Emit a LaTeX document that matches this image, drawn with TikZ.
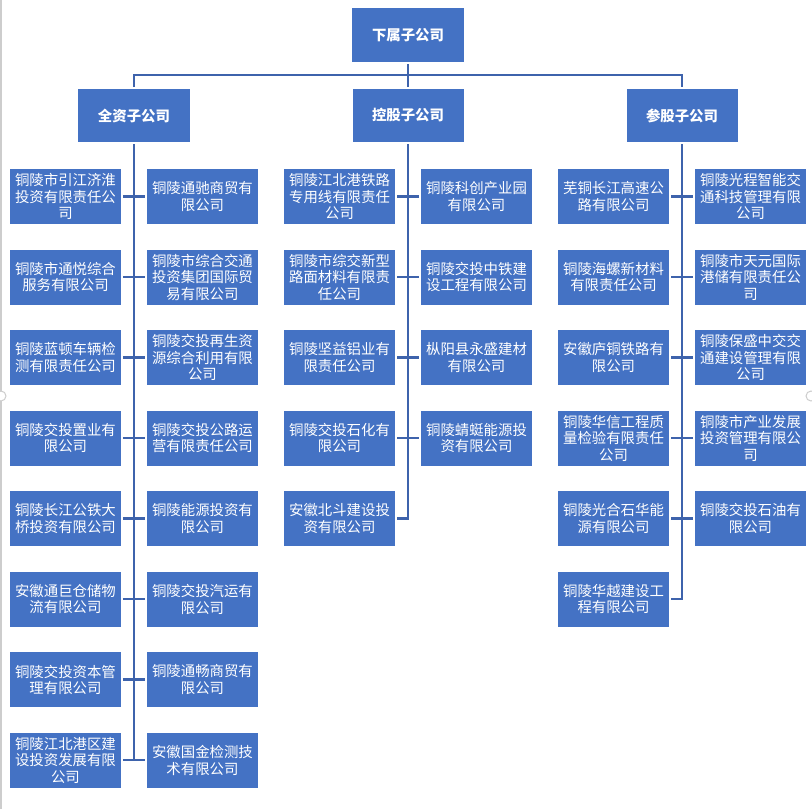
\documentclass[tikz,border=0pt]{standalone}
\usepackage{fontspec}
\setmainfont{Noto Sans CJK SC}
\usepackage{tikz}
\usetikzlibrary{matrix,positioning}
\definecolor{boxblue}{RGB}{68,114,196}
\definecolor{lineblue}{RGB}{62,99,172}
\definecolor{framegray}{RGB}{205,205,205}
\newcommand\brk{\break}

\begin{document}
\begin{tikzpicture}[
  x=1bp, y=-1bp,
  box/.style = {fill=boxblue, text=white, align=center, text width=105bp, inner sep=1bp, outer sep=0pt,
    minimum width=111bp, minimum height=55bp, font=\fontsize{14.4bp}{16.5bp}\selectfont},
  head/.style = {box, minimum height=53bp, font=\fontsize{14.4bp}{16.5bp}\selectfont\bfseries},
  link/.style = {lineblue, line width=2.5bp, shorten <=2bp, shorten >=2bp},
  spine/.style = {lineblue, line width=2.5bp, shorten <=2bp},
  grid/.style = {matrix of nodes, column sep=26bp, row sep=25.5bp, inner sep=0pt,
    nodes={box, anchor=center}}
  ]
  \useasboundingbox (0,0) rectangle (812,809);
  % Frame handles
  \draw[framegray, line width=1.5bp] (1,0) -- (1,809);
  \draw[framegray, fill=white, line width=1bp] (1,396) circle[radius=5bp];
  \draw[framegray, fill=white, line width=1bp] (811,396) circle[radius=5bp];
  % Heads
  \node[head, minimum width=112bp, minimum height=54bp] (top) at (408,35) {下属子公司};
  \node[head, below=27bp of top] (kghead) {控股子公司};
  \node[head, left=163bp of kghead] (qzhead) {全资子公司};
  \node[head, right=163bp of kghead] (cghead) {参股子公司};
  \coordinate[below=13bp of top] (bus);
  % Companies
  \matrix[grid, below=27bp of qzhead] (qz) {
    铜陵市引江济淮\brk 投资有限责任公\brk 司 & 铜陵通驰商贸有\brk 限公司 \\
    铜陵市通悦综合\brk 服务有限公司 & 铜陵市综合交通\brk 投资集团国际贸\brk 易有限公司 \\
    铜陵蓝顿车辆检\brk 测有限责任公司 & 铜陵交投再生资\brk 源综合利用有限\brk 公司 \\
    铜陵交投置业有\brk 限公司 & 铜陵交投公路运\brk 营有限责任公司 \\
    铜陵长江公铁大\brk 桥投资有限公司 & 铜陵能源投资有\brk 限公司 \\
    安徽通巨仓储物\brk 流有限公司 & 铜陵交投汽运有\brk 限公司 \\
    铜陵交投资本管\brk 理有限公司 & 铜陵通畅商贸有\brk 限公司 \\
    铜陵江北港区建\brk 设投资发展有限\brk 公司 & 安徽国金检测技\brk 术有限公司 \\
  };
  \matrix[grid, below=27bp of kghead] (kg) {
    铜陵江北港铁路\brk 专用线有限责任\brk 公司 & 铜陵科创产业园\brk 有限公司 \\
    铜陵市综交新型\brk 路面材料有限责\brk 任公司 & 铜陵交投中铁建\brk 设工程有限公司 \\
    铜陵坚益铝业有\brk 限责任公司 & 枞阳县永盛建材\brk 有限公司 \\
    铜陵交投石化有\brk 限公司 & 铜陵蜻蜓能源投\brk 资有限公司 \\
    安徽北斗建设投\brk 资有限公司 & \\
  };
  \matrix[grid, below=27bp of cghead] (cg) {
    芜铜长江高速公\brk 路有限公司 & 铜陵光程智能交\brk 通科技管理有限\brk 公司 \\
    铜陵海螺新材料\brk 有限责任公司 & 铜陵市天元国际\brk 港储有限责任公\brk 司 \\
    安徽庐铜铁路有\brk 限公司 & 铜陵保盛中交交\brk 通建设管理有限\brk 公司 \\
    铜陵华信工程质\brk 量检验有限责任\brk 公司 & 铜陵市产业发展\brk 投资管理有限公\brk 司 \\
    铜陵光合石华能\brk 源有限公司 & 铜陵交投石油有\brk 限公司 \\
    铜陵华越建设工\brk 程有限公司 & \\
  };
  % Top links
  \draw[spine] (top.south) -- (bus);
  \draw[spine] (kghead.north) -- (bus);
  \draw[link] (qzhead.north) |- (bus) -| (cghead.north);
  % Spines
  \draw[spine, shorten >=-1.25bp] (qzhead.south) -- (qzhead.south |- qz-8-1.east);
  \draw[link] (kghead.south) |- (kg-5-1.east);
  \draw[link] (cghead.south) |- (cg-6-1.east);
  % Rows
  \foreach \g/\n in {qz/8, kg/4, cg/5}
    \foreach \r in {1,...,\n}
      \draw[link] (\g-\r-1.east) -- (\g-\r-2.west);
\end{tikzpicture}
\end{document}
